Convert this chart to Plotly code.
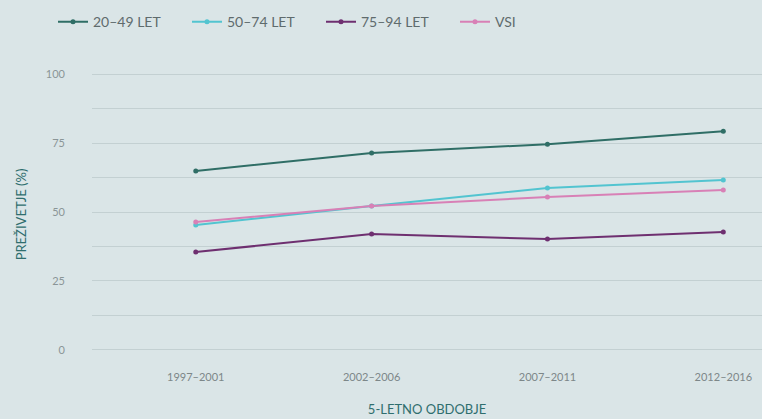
import plotly.graph_objects as go

periods = ["1997–2001", "2002–2006", "2007–2011", "2012–2016"]
s_20_49 = [64.9, 71.4, 74.6, 79.3]
s_50_74 = [45.3, 52.2, 58.7, 61.6]
s_75_94 = [35.5, 42.0, 40.2, 42.8]
s_vsi = [46.4, 52.2, 55.4, 58.0]

series = [
    ("20–49 LET", s_20_49, "#2f6e66"),
    ("50–74 LET", s_50_74, "#52c4d0"),
    ("75–94 LET", s_75_94, "#6e2f70"),
    ("VSI", s_vsi, "#d880b6"),
]

bg = "#dae5e7"
font_family = "Lato, 'DejaVu Sans', sans-serif"

fig = go.Figure()
for name, vals, col in series:
    fig.add_trace(go.Scatter(
        x=periods, y=vals, name=name, mode="lines+markers",
        line=dict(color=col, width=2), marker=dict(color=col, size=5),
    ))

tickvals = [i * 12.5 for i in range(9)]
ticktext = [str(int(v)) if v % 25 == 0 else "" for v in tickvals]

fig.update_layout(
    width=762, height=419,
    paper_bgcolor=bg, plot_bgcolor=bg,
    margin=dict(l=92, r=0, t=60, b=50, autoexpand=False),
    font=dict(family=font_family, color="#8a9597", size=11),
    showlegend=True,
    legend=dict(
        orientation="h", x=53 / 762, xref="container", xanchor="left",
        y=0.947, yref="container", yanchor="middle",
        font=dict(size=14, color="#5f6b6d"), entrywidth=89, entrywidthmode="pixels",
        bgcolor="rgba(0,0,0,0)",
    ),
    xaxis=dict(
        type="category", range=[-0.59, 3.22], showgrid=False, zeroline=False,
        showline=False, ticks="", tickfont=dict(size=11, color="#7d8789"),
        title=dict(text="5-LETNO OBDOBJE", font=dict(size=13, color="#2f6e6e"), standoff=22),
    ),
    yaxis=dict(
        range=[-6.9, 105.1], tickvals=tickvals, ticktext=ticktext,
        showgrid=True, gridcolor="#c3d0d2", gridwidth=1, zeroline=False,
        showline=False, ticks="", tickfont=dict(size=11, color="#8a9597"),
        ticklabelstandoff=26,
        title=dict(text="PREŽIVETJE (%)", font=dict(size=13, color="#2f6e6e"), standoff=16),
    ),
)

fig.write_html("out.html")
